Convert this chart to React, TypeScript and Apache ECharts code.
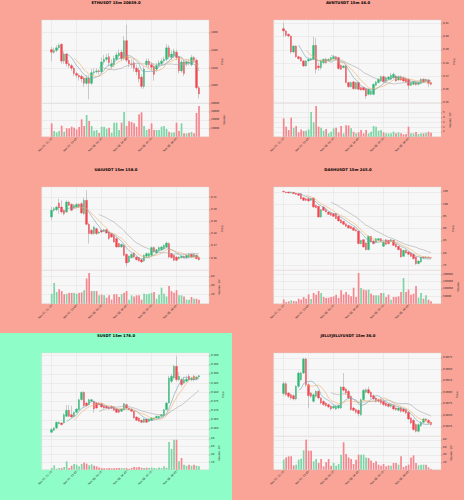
import { useEffect, useRef } from 'react';
import * as echarts from 'echarts';

// ---------- shared labels ----------
const TIME_LABELS = ['Nov 07, 21:15', 'Nov 07, 23:45', 'Nov 08, 02:15', 'Nov 08, 04:45', 'Nov 08, 07:15', 'Nov 08, 09:45'];
const LABEL_CANDLE_INDEX = [0, 10, 20, 30, 40, 50];
const MA_WINDOWS = [7, 10, 20];

// ---------- ETHUSDT ----------  [open, high, low, close]
const ETH_TITLE = 'ETHUSDT 15m 20659.0';
const ETH_OHLC = [
  [3441,3444,3428,3438],[3438,3443,3436,3440],[3440,3446,3438,3443],[3443,3448,3441,3446],[3447,3448,3425,3428],
  [3428,3439,3425,3436],[3436,3437,3422,3425],[3425,3429,3420,3423],[3423,3425,3417,3420],[3420,3422,3411,3414],
  [3414,3416,3409,3412],[3412,3414,3406,3410],[3411,3413,3404,3408],[3409,3411,3399,3403],[3403,3412,3401,3409],
  [3409,3412,3385,3403],[3403,3419,3401,3415],[3415,3420,3412,3416],[3416,3420,3414,3417],[3417,3419,3413,3416],
  [3416,3432,3414,3427],[3427,3435,3424,3430],[3430,3436,3428,3432],[3433,3437,3422,3426],[3422,3430,3419,3425],
  [3424,3434,3421,3431],[3430,3438,3428,3435],[3434,3441,3432,3437],[3438,3441,3428,3431],[3431,3456,3429,3451],
  [3451,3469,3427,3429],[3429,3433,3421,3425],[3425,3430,3420,3424],[3426,3430,3416,3420],[3420,3424,3412,3416],
  [3418,3421,3404,3408],[3410,3413,3397,3399.5],[3399.5,3422,3397,3419],[3424,3431,3421,3428],[3428,3431,3420,3424],
  [3424,3427,3417,3421],[3422,3425,3406,3413],[3419,3426,3416,3423],[3423,3429,3421,3426],[3425,3431,3423,3428],
  [3428,3433,3426,3430],[3430,3447,3428,3443],[3443,3446,3430,3433],[3432,3440,3429,3436],[3434,3442,3431,3439],
  [3438,3441,3429,3432],[3433,3434,3414,3417],[3417,3430,3415,3427],[3427,3429,3411,3414],[3425,3430,3422,3427],
  [3427,3430,3423,3426],[3424,3435,3422,3432],[3432,3434,3426,3429],[3429,3431,3396,3398],[3398,3400,3386,3391],
];
const ETH_VOL = [16000,6800,5200,6800,13200,6000,10000,10000,12000,10800,8800,11600,20800,12800,26000,18800,12800,7200,8000,4800,
  12000,12000,9600,10800,4800,16800,16800,8000,16800,29600,12800,18400,17600,16000,12000,26800,29200,12800,8000,9200,
  16000,8000,8000,8000,12000,12800,9200,6000,4800,5200,16800,6800,16000,4000,4000,4800,5600,4000,28400,36800];
const ETH_PRICE_TICKS = [3400, 3420, 3440, 3460];
const ETH_VOL_TICKS = [10000, 20000, 30000, 40000];

// ---------- AVNTUSDT ----------
const AVNT_TITLE = 'AVNTUSDT 15m 46.0';
const AVNT_OHLC = [
  [0.4061,0.4106,0.4000,0.4043],[0.4043,0.4050,0.4000,0.4010],[0.4018,0.4025,0.3995,0.4005],[0.4005,0.4010,0.3870,0.3884],[0.3884,0.3935,0.3875,0.3929],
  [0.3929,0.3935,0.3840,0.3848],[0.3848,0.3855,0.3825,0.3833],[0.3841,0.3848,0.3810,0.3816],[0.3816,0.3822,0.3770,0.3778],[0.3778,0.3822,0.3772,0.3816],
  [0.3816,0.3835,0.3810,0.3828],[0.3823,0.3840,0.3818,0.3833],[0.3828,0.4000,0.3820,0.3934],[0.3934,0.3990,0.3720,0.3753],[0.3778,0.3800,0.3740,0.3765],
  [0.3765,0.3825,0.3750,0.3816],[0.3803,0.3835,0.3790,0.3828],[0.3828,0.3840,0.3795,0.3803],[0.3816,0.3835,0.3810,0.3828],[0.3821,0.3848,0.3815,0.3841],
  [0.3833,0.3860,0.3828,0.3848],[0.3848,0.3855,0.3820,0.3828],[0.3841,0.3848,0.3750,0.3758],[0.3783,0.3790,0.3745,0.3753],[0.3765,0.3785,0.3760,0.3778],
  [0.3778,0.3785,0.3645,0.3652],[0.3652,0.3660,0.3612,0.3621],[0.3621,0.3660,0.3615,0.3652],[0.3657,0.3665,0.3598,0.3606],[0.3606,0.3658,0.3600,0.3652],
  [0.3652,0.3658,0.3595,0.3601],[0.3614,0.3620,0.3590,0.3596],[0.3614,0.3620,0.3590,0.3596],[0.3606,0.3612,0.3530,0.3551],[0.3563,0.3608,0.3555,0.3601],
  [0.3563,0.3595,0.3555,0.3588],[0.3563,0.3646,0.3555,0.3639],[0.3631,0.3665,0.3625,0.3657],[0.3652,0.3685,0.3645,0.3677],[0.3664,0.3705,0.3658,0.3697],
  [0.3697,0.3705,0.3650,0.3657],[0.3664,0.3697,0.3658,0.3689],[0.3677,0.3702,0.3670,0.3694],[0.3677,0.3725,0.3670,0.3707],[0.3689,0.3728,0.3682,0.3715],
  [0.3702,0.3710,0.3658,0.3664],[0.3672,0.3705,0.3665,0.3697],[0.3697,0.3705,0.3665,0.3672],[0.3689,0.3697,0.3658,0.3664],[0.3682,0.3690,0.3650,0.3657],
  [0.3677,0.3685,0.3600,0.3631],[0.3631,0.3660,0.3625,0.3652],[0.3639,0.3665,0.3632,0.3657],[0.3652,0.3660,0.3630,0.3636],[0.3639,0.3660,0.3632,0.3652],
  [0.3646,0.3685,0.3640,0.3677],[0.3677,0.3685,0.3650,0.3657],[0.3664,0.3682,0.3658,0.3677],[0.3672,0.3680,0.3620,0.3646],[0.3652,0.3658,0.3630,0.3639],
];
const AVNT_VOL = [3.8,2.07,1.38,3.93,1.86,2.2,0.9,1.5,1.17,1.24,1.5,5.1,2.97,6.34,2.07,1.86,1.24,1.59,0.69,1.03,
  1.72,1.86,0.9,2.2,0.69,2.34,2.34,1.72,1.03,0.69,0.9,1.38,0.69,1.38,0.69,1.03,2.2,2.07,1.24,1.38,
  0.9,0.69,0.69,0.69,1.03,0.69,0.9,0.69,0.48,0.55,2.07,0.69,0.69,0.97,0.55,0.69,0.69,0.83,1.03,0.83];
const AVNT_PRICE_TICKS = [0.35, 0.36, 0.37, 0.38, 0.39, 0.40, 0.41];
const AVNT_VOL_TICKS = [1, 2, 3, 4, 5];

// ---------- UAIUSDT ----------
const UAI_TITLE = 'UAIUSDT 15m 158.0';
const UAI_OHLC = [
  [0.1937,0.2019,0.1910,0.1992],[0.1992,0.2020,0.1980,0.2005],[0.1997,0.2030,0.1985,0.2019],[0.2052,0.2087,0.1964,0.2011],[0.2019,0.2074,0.1964,0.1978],
  [0.1992,0.2000,0.1950,0.1964],[0.1978,0.2074,0.1970,0.2060],[0.2060,0.2070,0.2025,0.2033],[0.2041,0.2050,0.1985,0.1992],[0.2011,0.2045,0.2005,0.2033],
  [0.2019,0.2050,0.2010,0.2041],[0.2041,0.2050,0.2015,0.2025],[0.2046,0.2060,0.1960,0.1970],[0.1964,0.2096,0.1955,0.2074],[0.2074,0.2156,0.1870,0.1877],
  [0.1877,0.1890,0.1719,0.1801],[0.1828,0.1840,0.1790,0.1801],[0.1801,0.1865,0.1790,0.1855],[0.1842,0.1850,0.1790,0.1801],[0.1806,0.1825,0.1798,0.1814],
  [0.1828,0.1835,0.1805,0.1814],[0.1822,0.1840,0.1815,0.1833],[0.1833,0.1840,0.1800,0.1806],[0.1814,0.1820,0.1750,0.1760],[0.1801,0.1808,0.1765,0.1773],
  [0.1787,0.1795,0.1725,0.1732],[0.1760,0.1770,0.1685,0.1691],[0.1719,0.1725,0.1685,0.1691],[0.1691,0.1720,0.1685,0.1713],[0.1705,0.1712,0.1615,0.1623],
  [0.1631,0.1637,0.1533,0.1560],[0.1568,0.1622,0.1560,0.1615],[0.1604,0.1640,0.1598,0.1631],[0.1642,0.1650,0.1600,0.1609],[0.1609,0.1615,0.1580,0.1587],
  [0.1604,0.1610,0.1570,0.1576],[0.1587,0.1595,0.1560,0.1568],[0.1576,0.1630,0.1570,0.1623],[0.1615,0.1645,0.1610,0.1637],[0.1615,0.1645,0.1610,0.1637],
  [0.1623,0.1695,0.1618,0.1686],[0.1686,0.1695,0.1645,0.1650],[0.1642,0.1675,0.1635,0.1669],[0.1664,0.1695,0.1658,0.1686],[0.1669,0.1700,0.1662,0.1691],
  [0.1678,0.1712,0.1672,0.1705],[0.1691,0.1735,0.1685,0.1724],[0.1719,0.1730,0.1600,0.1609],[0.1637,0.1645,0.1598,0.1604],[0.1623,0.1630,0.1575,0.1582],
  [0.1609,0.1615,0.1575,0.1582],[0.1596,0.1615,0.1590,0.1609],[0.1604,0.1622,0.1598,0.1615],[0.1615,0.1622,0.1598,0.1604],[0.1604,0.1630,0.1598,0.1623],
  [0.1609,0.1638,0.1602,0.1631],[0.1631,0.1638,0.1602,0.1609],[0.1609,0.1638,0.1602,0.1631],[0.1623,0.1630,0.1590,0.1596],[0.1604,0.1610,0.1580,0.1587],
];
const UAI_VOL = [22,46,26,32,28,21,22,24,24,24,22,24,25,30,56,68,28,28,28,18.5,
  20,18.5,13,18.5,9,21,21,15,21,24,28,9,18.5,16,18.5,18.5,9,22,21,22,
  24,26,11,20,35.5,22,16,39,28,24,30,18.5,18.5,16,9,9,15,11,11,9];
const UAI_PRICE_TICKS = [0.16, 0.17, 0.18, 0.19, 0.20, 0.21];
const UAI_VOL_TICKS = [20, 40, 60];

// ---------- DASHUSDT ----------
const DASH_TITLE = 'DASHUSDT 15m 245.0';
const DASH_OHLC = [
  [105.25,105.4,104.9,105.0],[105.0,105.1,104.5,104.7],[105.0,105.1,104.4,104.56],[104.56,105.3,104.4,104.84],[104.84,105.0,104.1,104.29],
  [104.56,104.7,103.8,104.02],[104.29,104.6,103.3,103.61],[104.29,104.4,102.0,102.25],[102.66,102.9,101.3,101.57],[102.25,102.5,101.3,101.57],
  [102.25,102.5,101.0,101.29],[101.57,102.5,101.3,102.25],[102.52,102.7,98.5,98.84],[99.52,99.8,98.3,98.57],[99.11,99.3,94.4,94.75],
  [94.75,98.0,94.5,97.75],[98.84,99.0,97.2,97.48],[97.75,98.0,96.6,96.8],[96.8,97.0,95.6,95.84],[96.39,96.6,95.2,95.44],
  [96.12,96.3,94.8,95.03],[96.12,96.3,93.9,94.07],[95.03,95.2,92.9,93.12],[93.66,93.9,92.1,92.3],[92.98,93.2,91.5,91.76],
  [92.03,92.2,90.7,90.94],[91.35,91.5,90.0,90.26],[90.94,91.1,89.8,89.99],[90.4,90.6,89.1,89.31],[89.58,89.8,88.8,89.03],
  [89.03,89.2,83.6,83.86],[83.86,85.5,83.6,85.22],[85.49,85.7,82.2,82.49],[84.13,84.4,81.1,81.4],[81.4,87.1,81.1,86.85],
  [86.85,87.0,84.3,84.54],[84.95,85.2,83.6,83.86],[84.54,86.1,84.3,85.9],[85.22,86.1,85.0,85.9],[85.9,86.1,84.7,84.95],
  [82.77,84.8,82.5,84.54],[85.49,85.7,83.3,83.58],[85.22,85.4,83.6,83.86],[84.95,85.7,84.7,85.49],[85.22,85.4,82.9,83.17],
  [83.58,83.8,82.2,82.49],[82.77,83.0,81.1,81.4],[81.81,82.0,78.1,78.41],[78.68,81.4,78.4,81.13],[81.13,81.4,79.8,80.04],
  [80.45,80.7,79.2,79.5],[80.04,80.3,78.4,78.68],[79.5,79.8,77.4,77.72],[78.41,78.6,75.2,75.68],[75.68,77.0,75.4,76.77],
  [76.36,78.6,76.1,78.41],[78.41,78.7,77.5,78.13],[78.13,78.7,77.8,78.41],[78.41,78.6,77.8,78.13],[78.13,78.3,77.7,78.0],
];
const DASH_VOL = [29500,11400,16000,22700,18200,16000,34100,27300,45500,34100,63600,31800,72700,61400,86400,72700,45500,38600,40900,45500,
  50000,61400,38600,90900,63600,79500,61400,50000,109000,45500,209000,106800,95500,90900,95500,68200,56800,56800,56800,72700,
  72700,45500,61400,27300,45500,45500,50000,79500,175000,79500,95500,61400,68200,120000,40900,72700,34100,56800,27300,16000];
const DASH_PRICE_TICKS = [75, 80, 85, 90, 95, 100, 105];
const DASH_VOL_TICKS = [50000, 100000, 150000, 200000];

// ---------- SUSDT ----------
const S_TITLE = 'SUSDT 15m 178.0';
const S_OHLC = [
  [0.15818,0.16055,0.15782,0.15964],[0.15927,0.161,0.1588,0.16055],[0.16055,0.164,0.16,0.16364],[0.16291,0.164,0.1625,0.16364],[0.16327,0.1638,0.162,0.16236],
  [0.16327,0.1685,0.1628,0.16782],[0.16691,0.173,0.1665,0.17018],[0.17018,0.173,0.1665,0.16691],[0.16782,0.17273,0.166,0.16654],[0.16691,0.1695,0.1665,0.16909],
  [0.16909,0.1713,0.1687,0.17091],[0.17054,0.1765,0.17,0.176],[0.176,0.1805,0.1755,0.18],[0.18,0.1805,0.172,0.17273],[0.17418,0.1746,0.1723,0.17273],
  [0.17327,0.1765,0.1729,0.176],[0.17509,0.1764,0.1747,0.176],[0.17509,0.1755,0.169,0.17091],[0.17418,0.1746,0.171,0.17145],[0.17418,0.1746,0.1729,0.17327],
  [0.17382,0.1742,0.1716,0.172],[0.17273,0.1731,0.171,0.17145],[0.17236,0.1728,0.171,0.17145],[0.172,0.1724,0.1705,0.17091],[0.17236,0.1728,0.1709,0.17127],
  [0.172,0.1724,0.1698,0.17018],[0.17091,0.1713,0.1687,0.16909],[0.17054,0.1709,0.1687,0.16909],[0.16964,0.1713,0.1693,0.17091],[0.17054,0.1742,0.1702,0.17382],
  [0.17327,0.1738,0.171,0.17145],[0.17145,0.1718,0.1702,0.17054],[0.17091,0.1713,0.1693,0.16964],[0.16964,0.17,0.1656,0.166],[0.16654,0.167,0.1643,0.16473],
  [0.166,0.1664,0.1638,0.16418],[0.16473,0.1651,0.1632,0.16364],[0.16364,0.1658,0.1632,0.16545],[0.16545,0.1658,0.1632,0.16364],[0.16418,0.1658,0.1638,0.16545],
  [0.16473,0.1664,0.1643,0.166],[0.16545,0.1664,0.1651,0.166],[0.166,0.1673,0.1656,0.16691],[0.166,0.1673,0.1656,0.16691],[0.16691,0.1682,0.1665,0.16782],
  [0.16727,0.1709,0.1669,0.17054],[0.17054,0.1746,0.1702,0.17418],[0.17418,0.189,0.1738,0.18782],[0.186,0.19,0.185,0.18872],[0.18782,0.195,0.187,0.19418],
  [0.19418,0.19963,0.186,0.18691],[0.18691,0.191,0.186,0.18872],[0.18691,0.188,0.183,0.18418],[0.18509,0.1885,0.1845,0.18691],[0.186,0.189,0.1855,0.18727],
  [0.18872,0.19,0.186,0.18691],[0.18691,0.1885,0.186,0.18782],[0.18872,0.1895,0.186,0.18691],[0.18727,0.189,0.1865,0.18836],[0.18836,0.1895,0.188,0.18909],
];
const S_VOL = [4.3,11.3,2.6,4.3,4.3,7,21.7,4.3,10.4,14.8,13,8.7,14.8,19,15.7,11.3,13.9,10.4,8.7,6,
  4.3,3.5,3.5,4.3,3.5,3.5,4.3,4.3,4.3,3.5,4.3,2.6,4.3,7,6,7,5.2,4.3,5.2,4.3,
  6,4.3,3.5,6,4.3,8.7,5.2,72,54,78,78,21.7,30.4,13,10.4,13,10.4,13,10.4,8.7];
const S_PRICE_TICKS = [0.160, 0.165, 0.170, 0.175, 0.180, 0.185, 0.190, 0.195, 0.200];
const S_VOL_TICKS = [20, 40, 60, 80];

// ---------- JELLYJELLYUSDT ----------
const JELLY_TITLE = 'JELLYJELLYUSDT 15m 36.0';
const JELLY_OHLC = [
  [0.08975,0.0923,0.0893,0.09192],[0.09192,0.0923,0.0892,0.08953],[0.08989,0.0901,0.0888,0.08917],[0.08953,0.0898,0.0884,0.0888],[0.08931,0.0896,0.0883,0.08859],
  [0.08859,0.0916,0.0883,0.09134],[0.09134,0.0945,0.091,0.09424],[0.09279,0.0945,0.0925,0.09424],[0.09424,0.0976,0.094,0.09728],[0.09728,0.0976,0.0912,0.0917],
  [0.0917,0.092,0.0866,0.08931],[0.08989,0.0901,0.0888,0.08917],[0.08808,0.0898,0.0878,0.08953],[0.08917,0.0905,0.0889,0.09025],[0.09025,0.0905,0.0885,0.0888],
  [0.0888,0.089,0.0874,0.08772],[0.08808,0.0883,0.0871,0.08736],[0.08772,0.0879,0.0869,0.08714],[0.08736,0.0876,0.0866,0.08685],[0.08699,0.0872,0.0861,0.08641],
  [0.08663,0.0872,0.0864,0.08699],[0.08641,0.0872,0.0862,0.08699],[0.08663,0.0874,0.0864,0.08714],[0.08663,0.0914,0.0864,0.0912],[0.0912,0.09424,0.0902,0.09047],
  [0.09076,0.091,0.0896,0.08989],[0.09025,0.0905,0.0885,0.0888],[0.08917,0.0894,0.086,0.08627],[0.08663,0.0869,0.0859,0.08612],[0.08627,0.0865,0.0854,0.08569],
  [0.08612,0.0863,0.0848,0.0854],[0.08518,0.0887,0.0849,0.08844],[0.08844,0.0908,0.0882,0.09047],[0.09004,0.0909,0.0898,0.09062],[0.09062,0.0913,0.0896,0.08989],
  [0.09004,0.0903,0.0887,0.08902],[0.08931,0.0896,0.0883,0.08859],[0.0888,0.089,0.0878,0.08808],[0.08844,0.0887,0.0878,0.08808],[0.08844,0.0887,0.0874,0.08772],
  [0.08808,0.0883,0.0871,0.08736],[0.08772,0.0879,0.0869,0.08714],[0.0875,0.0877,0.0867,0.08699],[0.08699,0.0876,0.0867,0.08736],[0.08714,0.0874,0.0861,0.08641],
  [0.08663,0.0869,0.086,0.08627],[0.08612,0.0869,0.0859,0.08663],[0.08663,0.0869,0.0856,0.08591],[0.08641,0.0866,0.0856,0.08591],[0.08627,0.0865,0.0853,0.08554],
  [0.08569,0.0859,0.084,0.08424],[0.08446,0.0847,0.0831,0.08337],[0.08395,0.0842,0.0817,0.08192],[0.08301,0.0833,0.0813,0.08156],[0.08156,0.0833,0.0813,0.08301],
  [0.08279,0.0838,0.0825,0.08351],[0.08351,0.0845,0.0832,0.08424],[0.08424,0.0845,0.0837,0.08395],[0.08395,0.0842,0.0831,0.08337],[0.08351,0.0837,0.0828,0.08301],
];
const JELLY_VOL = [27,33,36,36,11.7,13.5,27,29.6,52,80.7,51,51,22.4,28.7,18,28.7,9,19.7,28.7,10.8,
  18,10.8,15.2,40.4,73.5,42,33,28.7,15.2,27,40.4,40.4,40.4,33,31.4,25,18,22.4,13.5,10.8,
  15.2,9,11.7,10.8,18,18,13.5,36,7.2,10.8,13.5,33,38.6,18,11.7,13.5,13.5,13.5,6.3,1.8];
const JELLY_PRICE_TICKS = [0.0825, 0.0850, 0.0875, 0.0900, 0.0925, 0.0950, 0.0975];
const JELLY_VOL_TICKS = [20, 40, 60, 80];

// ---------- panel configuration (layout / axis ranges) ----------
const PANELS = [
  { title: ETH_TITLE, ohlc: ETH_OHLC, vol: ETH_VOL, pTicks: ETH_PRICE_TICKS, vTicks: ETH_VOL_TICKS, yMin: 3380.5, yMax: 3474.25, vMax: 40000, dec: 0, vDec: 0, volName: 'Volume', x: 0, y: 0, bg: '#f9a497' },
  { title: AVNT_TITLE, ohlc: AVNT_OHLC, vol: AVNT_VOL, pTicks: AVNT_PRICE_TICKS, vTicks: AVNT_VOL_TICKS, yMin: 0.3495, yMax: 0.4126, vMax: 6.9, dec: 2, vDec: 0, volName: 'Volume  10⁶', x: 232, y: 0, bg: '#f9a497' },
  { title: UAI_TITLE, ohlc: UAI_OHLC, vol: UAI_VOL, pTicks: UAI_PRICE_TICKS, vTicks: UAI_VOL_TICKS, yMin: 0.15, yMax: 0.2183, vMax: 74, dec: 2, vDec: 0, volName: 'Volume  10⁵', x: 0, y: 167, bg: '#f9a497' },
  { title: DASH_TITLE, ohlc: DASH_OHLC, vol: DASH_VOL, pTicks: DASH_PRICE_TICKS, vTicks: DASH_VOL_TICKS, yMin: 72.96, yMax: 107.02, vMax: 227272, dec: 0, vDec: 0, volName: 'Volume', x: 232, y: 167, bg: '#f9a497' },
  { title: S_TITLE, ohlc: S_OHLC, vol: S_VOL, pTicks: S_PRICE_TICKS, vTicks: S_VOL_TICKS, yMin: 0.156, yMax: 0.20145, vMax: 87, dec: 3, vDec: 0, volName: 'Volume  10⁵', x: 0, y: 333, bg: '#8ffdc7' },
  { title: JELLY_TITLE, ohlc: JELLY_OHLC, vol: JELLY_VOL, pTicks: JELLY_PRICE_TICKS, vTicks: JELLY_VOL_TICKS, yMin: 0.08047, yMax: 0.09859, vMax: 89.7, dec: 4, vDec: 0, volName: 'Volume  10⁵', x: 232, y: 333, bg: '#f9a497' },
];

const PAD_LEFT = 4;
const PAD_RIGHT = 4;
const COLORS = {
  up: '#2cb872', down: '#f0444e', wick: '#9c9c9c',
  volUp: '#7dd5a6', volDown: '#f5868d',
  ma: ['#6fa3b6', '#f2ac66', '#a7a7a7'],
  plotBg: '#f7f7f7', grid: '#e0e0e0', text: '#222222',
};
const FONT = 'DejaVu Sans';

function movingAverage(closes: number[], w: number) {
  return closes.map((_, i) => {
    if (i < w - 1) return null;
    let s = 0;
    for (let k = i - w + 1; k <= i; k++) s += closes[k];
    return s / w;
  });
}

function buildOption() {
  const grid: any[] = [];
  const xAxis: any[] = [];
  const yAxis: any[] = [];
  const series: any[] = [];
  const graphic: any[] = [];

  PANELS.forEach((p, k) => {
    const n = p.ohlc.length;
    const catCount = PAD_LEFT + n + PAD_RIGHT;
    const cats = Array.from({ length: catCount }, (_, i) => String(i));
    const labelMap: Record<number, string> = {};
    LABEL_CANDLE_INDEX.forEach((c, j) => { labelMap[c + PAD_LEFT] = TIME_LABELS[j]; });
    const isTick = (i: number) => labelMap[i] !== undefined;
    const pad = (arr: any[], empty: any) => [
      ...Array(PAD_LEFT).fill(empty), ...arr, ...Array(PAD_RIGHT).fill(empty),
    ];

    const left = p.x + 41.7;
    const width = 167.3;
    grid.push({ left, top: p.y + 20, width, height: 83.3, show: true, backgroundColor: COLORS.plotBg, borderColor: '#d8d8d8', borderWidth: 0.4 });
    grid.push({ left, top: p.y + 103.3, width, height: 33.4, show: true, backgroundColor: COLORS.plotBg, borderColor: '#d8d8d8', borderWidth: 0.4 });
    const gp = 2 * k;
    const gv = 2 * k + 1;

    const baseX = {
      type: 'category', data: cats, boundaryGap: false,
      axisLine: { show: false },
      splitLine: { show: true, interval: (i: number) => isTick(i), lineStyle: { color: COLORS.grid, width: 0.5 } },
    };
    xAxis.push({ ...baseX, gridIndex: gp, axisTick: { show: false }, axisLabel: { show: false } });
    xAxis.push({
      ...baseX, gridIndex: gv,
      axisTick: { show: true, interval: (i: number) => isTick(i), length: 1.2, lineStyle: { color: '#555', width: 0.4 } },
      axisLabel: {
        show: true, interval: (i: number) => isTick(i), rotate: 45, margin: 2,
        formatter: (_v: string, i: number) => labelMap[i] ?? '',
        fontSize: 2.6, fontFamily: FONT, color: COLORS.text,
      },
    });

    yAxis.push({
      type: 'value', gridIndex: gp, position: 'right', min: p.yMin, max: p.yMax,
      name: 'Price', nameLocation: 'middle', nameRotate: 90, nameGap: 8,
      nameTextStyle: { fontSize: 2.6, fontFamily: FONT, color: COLORS.text },
      axisLine: { show: false },
      axisTick: { show: true, customValues: p.pTicks, length: 1.2, lineStyle: { color: '#555', width: 0.4 } },
      axisLabel: { customValues: p.pTicks, formatter: (v: number) => v.toFixed(p.dec), fontSize: 2.6, fontFamily: FONT, color: COLORS.text, margin: 2 },
      splitLine: { show: true, lineStyle: { color: COLORS.grid, width: 0.5 } },
    });
    yAxis.push({
      type: 'value', gridIndex: gv, position: 'right', min: 0, max: p.vMax,
      name: p.volName, nameLocation: 'middle', nameRotate: 90, nameGap: 8,
      nameTextStyle: { fontSize: 2.6, fontFamily: FONT, color: COLORS.text },
      axisLine: { show: false },
      axisTick: { show: true, customValues: p.vTicks, length: 1.2, lineStyle: { color: '#555', width: 0.4 } },
      axisLabel: { customValues: p.vTicks, formatter: (v: number) => v.toFixed(p.vDec), fontSize: 2.6, fontFamily: FONT, color: COLORS.text, margin: 2 },
      splitLine: { show: true, lineStyle: { color: COLORS.grid, width: 0.5 } },
    });

    const empty4 = ['-', '-', '-', '-'];
    // wicks (full range) in gray
    series.push({
      type: 'candlestick', xAxisIndex: gp, yAxisIndex: gp, barWidth: 0.5,
      data: pad(p.ohlc.map(([o, h, l, c]) => [o, c, l, h]), empty4),
      itemStyle: { color: COLORS.wick, color0: COLORS.wick, borderColor: COLORS.wick, borderColor0: COLORS.wick, borderWidth: 0.5 },
      silent: true,
    });
    // coloured bodies
    series.push({
      type: 'candlestick', xAxisIndex: gp, yAxisIndex: gp, barWidth: 2,
      data: pad(p.ohlc.map(([o, , , c]) => [o, c, Math.min(o, c), Math.max(o, c)]), empty4),
      itemStyle: { color: COLORS.up, color0: COLORS.down, borderColor: COLORS.up, borderColor0: COLORS.down, borderWidth: 0.3 },
      silent: true,
    });
    const closes = p.ohlc.map((r) => r[3]);
    MA_WINDOWS.forEach((w, j) => {
      series.push({
        type: 'line', xAxisIndex: gp, yAxisIndex: gp, showSymbol: false, symbol: 'none',
        data: pad(movingAverage(closes, w), null),
        lineStyle: { color: COLORS.ma[j], width: 0.6 }, silent: true,
      });
    });
    series.push({
      type: 'bar', xAxisIndex: gv, yAxisIndex: gv, barWidth: 1.7,
      data: pad(p.vol.map((v, i) => ({ value: v, itemStyle: { color: p.ohlc[i][3] >= p.ohlc[i][0] ? COLORS.volUp : COLORS.volDown } })), '-'),
      silent: true,
    });

    graphic.push({
      type: 'text', x: p.x + 116, y: p.y + 2.8, silent: true,
      style: { text: p.title, align: 'center', verticalAlign: 'middle', fontSize: 3.8, fontWeight: 'bold', fontFamily: FONT, fill: '#000' },
    });
  });

  return { animation: false, grid, xAxis, yAxis, series, graphic };
}

export default function App() {
  const ref = useRef<HTMLDivElement>(null);
  useEffect(() => {
    document.body.style.margin = '0';
    if (!ref.current) return;
    const chart = echarts.init(ref.current, null, { renderer: 'svg' });
    chart.setOption(buildOption() as any);
    return () => chart.dispose();
  }, []);
  return (
    <div style={{ position: 'relative', width: 464, height: 500, background: PANELS[0].bg }}>
      {PANELS.filter((p) => p.bg !== PANELS[0].bg).map((p, i) => (
        <div key={i} style={{ position: 'absolute', left: p.x, top: p.y, width: 232, height: 167, background: p.bg }} />
      ))}
      <div ref={ref} style={{ position: 'absolute', left: 0, top: 0, width: 464, height: 500 }} />
    </div>
  );
}
